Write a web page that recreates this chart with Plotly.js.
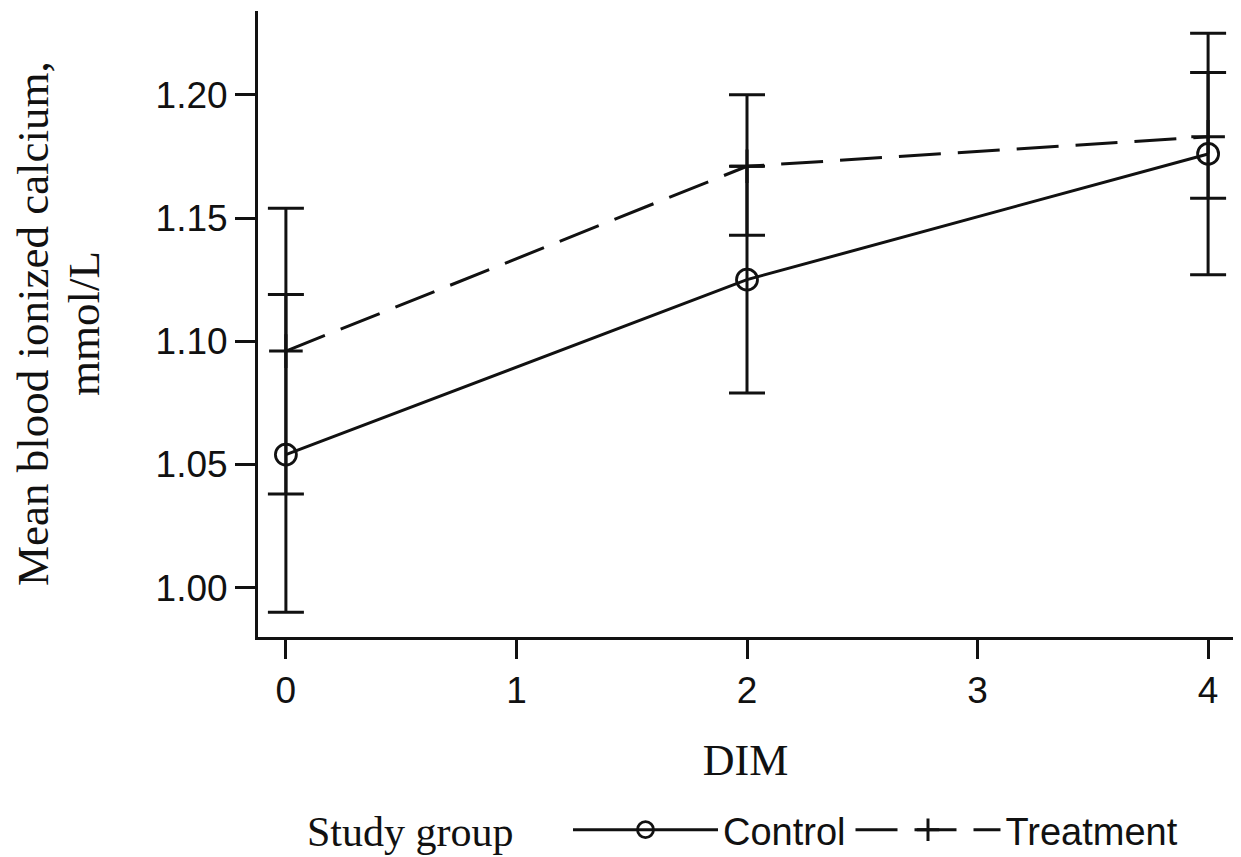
<!DOCTYPE html>
<html>
<head>
<meta charset="utf-8">
<script src="https://cdn.plot.ly/plotly-3.0.1.min.js"></script>
<style>html,body{margin:0;padding:0;background:#fff}#chart{width:1241px;height:857px}</style>
</head>
<body>
<div id="chart"></div>
<script>
const dim = [0, 2, 4];
const controlMean = [1.054, 1.125, 1.176];
const controlUpper = [1.119, 1.171, 1.225];
const controlLower = [0.990, 1.079, 1.127];
const treatmentMean = [1.096, 1.171, 1.183];
const treatmentUpper = [1.154, 1.200, 1.209];
const treatmentLower = [1.038, 1.143, 1.158];
const xTicks = [0, 1, 2, 3, 4];
const yTicks = [1.00, 1.05, 1.10, 1.15, 1.20];
const yTickLabels = ["1.00", "1.05", "1.10", "1.15", "1.20"];
const yTitleLines = ["Mean blood ionized calcium,", "mmol/L"];
const legendTitle = "Study group";

const plus = (u, m) => u.map((v, i) => v - m[i]);
const minus = (l, m) => l.map((v, i) => m[i] - v);

const ink = "#111";
const serif = "Liberation Serif, Times New Roman, serif";
const sans = "Liberation Sans, Arial, sans-serif";
const errStyle = {thickness: 3, width: 18, color: ink};

const traces = [
  {
    x: dim, y: controlMean, name: "Control", type: "scatter", mode: "lines+markers",
    line: {color: ink, width: 3},
    marker: {symbol: "circle-open", size: 21, color: ink, line: {width: 2.8, color: ink}},
    error_y: Object.assign({type: "data", symmetric: false, array: plus(controlUpper, controlMean), arrayminus: minus(controlLower, controlMean)}, errStyle)
  },
  {
    x: dim, y: treatmentMean, name: "Treatment", type: "scatter", mode: "lines+markers",
    line: {color: ink, width: 3, dash: "42px,17px"},
    marker: {symbol: "cross-thin", size: 24, color: ink, line: {width: 3, color: ink}},
    error_y: Object.assign({type: "data", symmetric: false, array: plus(treatmentUpper, treatmentMean), arrayminus: minus(treatmentLower, treatmentMean)}, errStyle)
  }
];

const W = 1241, H = 857;
const layout = {
  width: W, height: H,
  paper_bgcolor: "#fff", plot_bgcolor: "#fff",
  margin: {l: 258, r: 8, t: 11, b: 220},
  font: {family: sans, color: ink},
  xaxis: {
    range: [-0.121, 4.108], tickvals: xTicks, ticktext: xTicks.map(String),
    showgrid: false, zeroline: false, showline: true, linecolor: ink, linewidth: 3,
    ticks: "outside", ticklen: 19, tickwidth: 3, tickcolor: ink,
    tickfont: {size: 37, family: sans, color: ink},
    title: {text: "DIM", font: {family: serif, size: 44, color: ink}, standoff: 34}
  },
  yaxis: {
    range: [0.980, 1.234], tickvals: yTicks, ticktext: yTickLabels,
    showgrid: false, zeroline: false, showline: true, linecolor: ink, linewidth: 3,
    ticks: "outside", ticklen: 20, tickwidth: 3, tickcolor: ink,
    tickfont: {size: 37, family: sans, color: ink}
  },
  annotations: [
    {text: yTitleLines[0], xref: "paper", yref: "paper", x: (33 - 258) / 975, y: 0.5, xanchor: "center", yanchor: "middle", textangle: -90, showarrow: false, font: {family: serif, size: 45, color: ink}},
    {text: yTitleLines[1], xref: "paper", yref: "paper", x: (84 - 258) / 975, y: 0.5, xanchor: "center", yanchor: "middle", textangle: -90, showarrow: false, font: {family: serif, size: 45, color: ink}},
    {text: legendTitle, xref: "paper", yref: "paper", x: (305 - 258) / 975, y: -(832 - 637) / 626, xanchor: "left", yanchor: "middle", showarrow: false, font: {family: serif, size: 42, color: ink}}
  ],
  showlegend: true,
  legend: {
    orientation: "h", xref: "container", yref: "container",
    x: 568 / W, xanchor: "left", y: 1 - 830 / H, yanchor: "middle",
    itemwidth: 145, tracegroupgap: 0,
    font: {size: 38, family: sans, color: ink},
    bgcolor: "rgba(0,0,0,0)"
  }
};

Plotly.newPlot("chart", traces, layout, {displayModeBar: false, staticPlot: true});
</script>
</body>
</html>
